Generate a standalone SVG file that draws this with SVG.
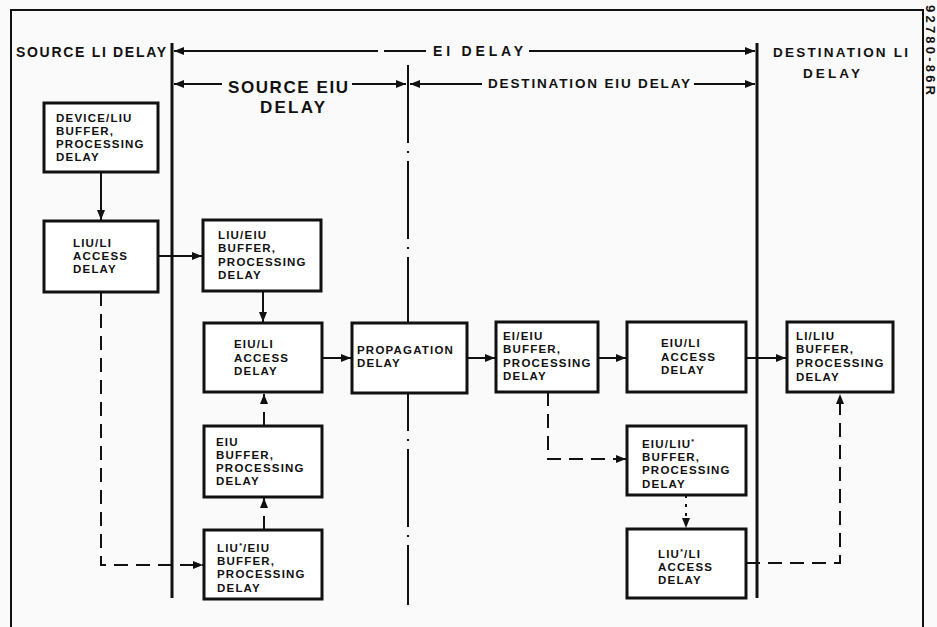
<svg xmlns="http://www.w3.org/2000/svg" width="937" height="627" viewBox="0 0 937 627">
<style>
.box{fill:#fff;stroke:#111;stroke-width:3}
.t{font-family:"Liberation Sans",Arial,sans-serif;font-weight:bold;font-size:11.5px;letter-spacing:1.2px;fill:#111}
.h{font-family:"Liberation Sans",Arial,sans-serif;font-weight:bold;fill:#111}
.ln{stroke:#111;stroke-width:2;fill:none}
.dash{stroke:#111;stroke-width:2;fill:none;stroke-dasharray:14 8}
.dot{stroke:#111;stroke-width:2;fill:none;stroke-dasharray:3 6}
.sup{font-size:7px}
</style>
<defs>
<marker id="ah" viewBox="0 0 10 8" refX="10" refY="4" markerWidth="10" markerHeight="8" markerUnits="userSpaceOnUse" orient="auto">
<path d="M0,0 L10,4 L0,8 Z" fill="#111"/>
</marker>
</defs>
<rect width="937" height="627" fill="#fafafa"/>
<g id="frame">
<path class="ln" d="M11,627 V10 H923 V627"/>
<line x1="172" y1="43" x2="172" y2="598" stroke="#111" stroke-width="3"/>
<line x1="757" y1="43" x2="757" y2="598" stroke="#111" stroke-width="3"/>
<line x1="408" y1="65" x2="408" y2="605" stroke="#111" stroke-width="2" stroke-dasharray="78 8 2 8"/>
<text class="h" transform="translate(926,5) rotate(90)" font-size="13" x="0" y="0" textLength="90" lengthAdjust="spacing">92780-86R</text>
</g>
<g id="headers">
<text class="h" x="16" y="57" font-size="14" textLength="150" lengthAdjust="spacing">SOURCE LI DELAY</text>
<text class="h" x="433" y="56" font-size="14" textLength="90" lengthAdjust="spacing">EI DELAY</text>
<text class="h" x="228" y="93" font-size="17" textLength="120" lengthAdjust="spacing">SOURCE EIU</text>
<text class="h" x="260" y="113" font-size="17" textLength="65" lengthAdjust="spacing">DELAY</text>
<text class="h" x="488" y="88" font-size="13.5" textLength="202" lengthAdjust="spacing">DESTINATION EIU DELAY</text>
<text class="h" x="773" y="57" font-size="13.5" textLength="135" lengthAdjust="spacing">DESTINATION LI</text>
<text class="h" x="803" y="78" font-size="13.5" textLength="57" lengthAdjust="spacing">DELAY</text>
</g>
<g id="dimensions">
<line class="ln" x1="378" y1="51" x2="174" y2="51" marker-end="url(#ah)"/>
<line class="ln" x1="384" y1="51" x2="426" y2="51"/>
<line class="ln" x1="529" y1="51" x2="755" y2="51" marker-end="url(#ah)"/>
<line class="ln" x1="222" y1="84" x2="174" y2="84" marker-end="url(#ah)"/>
<line class="ln" x1="352" y1="84" x2="406" y2="84" marker-end="url(#ah)"/>
<line class="ln" x1="482" y1="84" x2="410" y2="84" marker-end="url(#ah)"/>
<line class="ln" x1="694" y1="84" x2="755" y2="84" marker-end="url(#ah)"/>
</g>
<g id="connectors">
<line class="ln" x1="101" y1="172" x2="101" y2="220" marker-end="url(#ah)"/>
<line class="ln" x1="158" y1="256" x2="202" y2="256" marker-end="url(#ah)"/>
<line class="ln" x1="263" y1="291" x2="263" y2="322" marker-end="url(#ah)"/>
<line class="ln" x1="322" y1="358" x2="351" y2="358" marker-end="url(#ah)"/>
<line class="dash" x1="264" y1="426" x2="264" y2="394" marker-end="url(#ah)"/>
<line class="dash" x1="264" y1="530" x2="264" y2="498" marker-end="url(#ah)"/>
<path class="dash" d="M101,292 V565 H203" marker-end="url(#ah)"/>
<line class="ln" x1="467" y1="358" x2="495" y2="358" marker-end="url(#ah)"/>
<line class="ln" x1="598" y1="358" x2="626" y2="358" marker-end="url(#ah)"/>
<line class="ln" x1="746" y1="358" x2="786" y2="358" marker-end="url(#ah)"/>
<path class="dash" d="M548,392 V459 H626" marker-end="url(#ah)"/>
<line class="dot" x1="686" y1="495" x2="686" y2="528" marker-end="url(#ah)"/>
<path class="dash" d="M746,563 H840 V394" marker-end="url(#ah)"/>
</g>
<g id="n1"><rect class="box" x="44" y="103" width="114" height="69"/>
<text class="t" x="56" y="122">DEVICE/LIU</text><text class="t" x="56" y="135">BUFFER,</text><text class="t" x="56" y="148">PROCESSING</text><text class="t" x="56" y="161">DELAY</text></g>
<g id="n2"><rect class="box" x="44" y="221" width="114" height="71"/>
<text class="t" x="73" y="247">LIU/LI</text><text class="t" x="73" y="260">ACCESS</text><text class="t" x="73" y="273">DELAY</text></g>
<g id="n3"><rect class="box" x="203" y="220" width="118" height="71"/>
<text class="t" x="218" y="239">LIU/EIU</text><text class="t" x="218" y="252">BUFFER,</text><text class="t" x="218" y="266">PROCESSING</text><text class="t" x="218" y="279">DELAY</text></g>
<g id="n4"><rect class="box" x="204" y="323" width="118" height="69"/>
<text class="t" x="234" y="348">EIU/LI</text><text class="t" x="234" y="362">ACCESS</text><text class="t" x="234" y="375">DELAY</text></g>
<g id="n5"><rect class="box" x="352" y="323" width="115" height="70"/>
<text class="t" x="357" y="354" letter-spacing="0.6">PROPAGATION</text><text class="t" x="357" y="367">DELAY</text></g>
<g id="n6"><rect class="box" x="204" y="426" width="118" height="71"/>
<text class="t" x="216" y="446">EIU</text><text class="t" x="216" y="459">BUFFER,</text><text class="t" x="216" y="472">PROCESSING</text><text class="t" x="216" y="485">DELAY</text></g>
<g id="n7"><rect class="box" x="204" y="530" width="118" height="69"/>
<text class="t" x="217" y="552">LIU<tspan class="sup" dy="-4">*</tspan><tspan dy="4">/EIU</tspan></text><text class="t" x="217" y="565">BUFFER,</text><text class="t" x="217" y="578">PROCESSING</text><text class="t" x="217" y="592">DELAY</text></g>
<g id="n8"><rect class="box" x="496" y="322" width="102" height="70"/>
<text class="t" x="503" y="340">EI/EIU</text><text class="t" x="503" y="353">BUFFER,</text><text class="t" x="503" y="367" letter-spacing="0.7">PROCESSING</text><text class="t" x="503" y="380">DELAY</text></g>
<g id="n9"><rect class="box" x="627" y="322" width="119" height="70"/>
<text class="t" x="661" y="347">EIU/LI</text><text class="t" x="661" y="361">ACCESS</text><text class="t" x="661" y="374">DELAY</text></g>
<g id="n10"><rect class="box" x="787" y="322" width="106" height="70"/>
<text class="t" x="796" y="340">LI/LIU</text><text class="t" x="796" y="353">BUFFER,</text><text class="t" x="796" y="367" letter-spacing="0.8">PROCESSING</text><text class="t" x="796" y="381">DELAY</text></g>
<g id="n11"><rect class="box" x="627" y="426" width="119" height="69"/>
<text class="t" x="642" y="448">EIU/LIU<tspan class="sup" dy="-4">*</tspan></text><text class="t" x="642" y="461">BUFFER,</text><text class="t" x="642" y="474">PROCESSING</text><text class="t" x="642" y="488">DELAY</text></g>
<g id="n12"><rect class="box" x="627" y="529" width="119" height="69"/>
<text class="t" x="658" y="558">LIU<tspan class="sup" dy="-4">*</tspan><tspan dy="4">/LI</tspan></text><text class="t" x="658" y="571">ACCESS</text><text class="t" x="658" y="584">DELAY</text></g>
</svg>
